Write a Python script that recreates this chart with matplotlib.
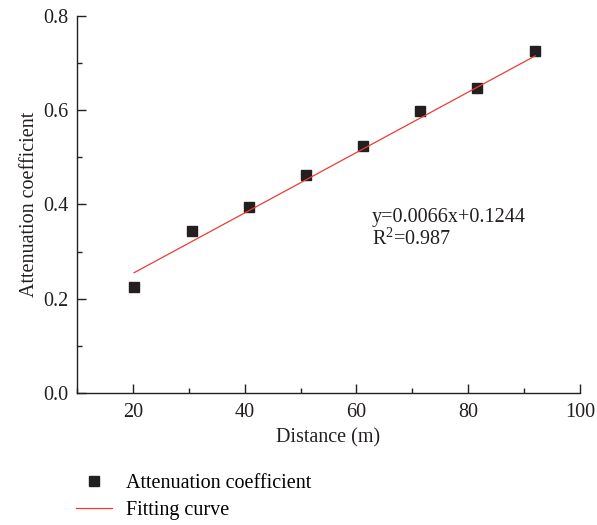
import matplotlib
matplotlib.use("Agg")
import matplotlib.pyplot as plt
from matplotlib.ticker import MultipleLocator

# measured points
distance = [20.2, 30.6, 40.8, 50.9, 61.2, 71.4, 81.6, 92.0]
atten = [0.224, 0.344, 0.394, 0.462, 0.524, 0.598, 0.646, 0.725]

# fitted line end points as drawn
fit_x = [20.2, 92.0]
fit_y = [0.255, 0.715]

equation = "y=0.0066x+0.1244"
r2_text = "R$^2$=0.987"

plt.rcParams['font.family'] = ['Liberation Serif', 'DejaVu Serif']
plt.rcParams['mathtext.fontset'] = 'custom'
plt.rcParams['mathtext.rm'] = 'Liberation Serif'
ink = '#231f20'
fs = 14.5

fig = plt.figure(figsize=(5.97, 5.25), dpi=100)
ax = fig.add_axes([0.129, 0.2514, 0.8425, 0.7186])

ax.plot(distance, atten, 's', color=ink, markersize=6.5, linestyle='none',
        label='Attenuation coefficient')
ax.plot(fit_x, fit_y, '-', color='#ee3b33', linewidth=0.9, label='Fitting curve')

ax.set_xlim(10, 100)
ax.set_ylim(0, 0.8)
ax.xaxis.set_major_locator(MultipleLocator(20))
ax.xaxis.set_minor_locator(MultipleLocator(10))
ax.yaxis.set_major_locator(MultipleLocator(0.2))
ax.yaxis.set_minor_locator(MultipleLocator(0.1))
ax.yaxis.set_major_formatter(plt.FormatStrFormatter('%.1f'))

for s in ['top', 'right']:
    ax.spines[s].set_visible(False)
for s in ['left', 'bottom']:
    ax.spines[s].set_color(ink)
    ax.spines[s].set_linewidth(1.0)
ax.tick_params(which='both', direction='in', colors=ink, labelsize=fs, width=1.0)
ax.tick_params(which='major', length=6.5)
ax.tick_params(which='minor', length=3.5)
ax.tick_params(axis='x', which='major', pad=7)
ax.tick_params(axis='y', which='major', pad=6)

ax.set_xlabel('Distance (m)', fontsize=fs, color=ink, labelpad=5)
ax.set_ylabel('Attenuation coefficient', fontsize=fs, color=ink, labelpad=3)

ax.text(0.586, 0.435, equation + "\n" + r2_text, transform=ax.transAxes,
        fontsize=fs, color=ink, va='center', ha='left', linespacing=1.05)

ax.legend(loc='upper left', bbox_to_anchor=(0.128, 0.097), bbox_transform=fig.transFigure,
          frameon=False, fontsize=fs, handlelength=1.75, handletextpad=0.7,
          labelspacing=0.4, borderaxespad=0, borderpad=0)

fig.savefig('out.png', dpi=100)
